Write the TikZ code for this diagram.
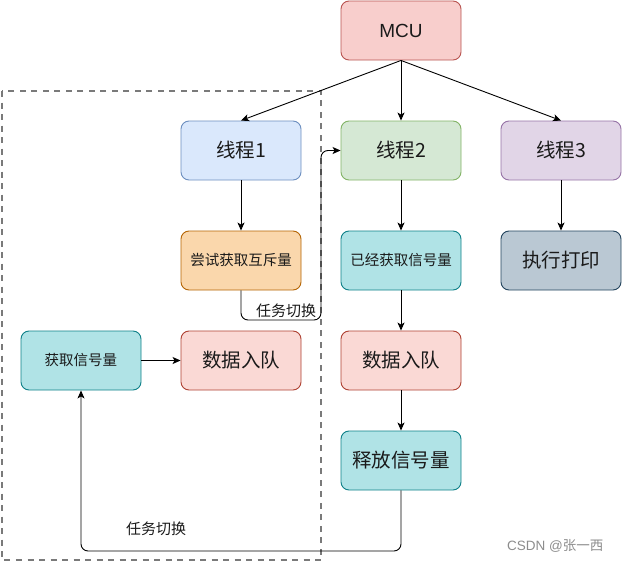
\documentclass[tikz,border=0pt]{standalone}
\usepackage{fontspec}
\setmainfont{Liberation Sans}
\newfontfamily\cjk{Noto Sans CJK SC}
\usetikzlibrary{arrows.meta}
\definecolor{txt}{HTML}{1A1A1A}
\definecolor{redF}{HTML}{F8CECC}\definecolor{redD}{HTML}{B85450}
\definecolor{blueF}{HTML}{DAE8FC}\definecolor{blueD}{HTML}{6C8EBF}
\definecolor{greenF}{HTML}{D5E8D4}\definecolor{greenD}{HTML}{82B366}
\definecolor{purpF}{HTML}{E1D5E7}\definecolor{purpD}{HTML}{9673A6}
\definecolor{orgF}{HTML}{FAD7AC}\definecolor{orgD}{HTML}{B46504}
\definecolor{tealF}{HTML}{B0E3E6}\definecolor{tealD}{HTML}{0E8088}
\definecolor{greyF}{HTML}{BAC8D3}\definecolor{greyD}{HTML}{23445D}
\definecolor{pinkF}{HTML}{FAD9D5}\definecolor{pinkD}{HTML}{AE4132}
\begin{document}
\begin{tikzpicture}[x=1pt,y=-1pt,
  box/.style={draw, rounded corners=8pt, minimum width=120pt, minimum height=59pt, inner sep=0pt, text=txt, line width=0.9pt},
  big/.style={font=\cjk\fontsize{19.5}{22}\selectfont},
  small/.style={font=\cjk\fontsize{14.5}{17}\selectfont},
  arr/.style={-{Stealth[length=8pt,width=7pt,inset=2pt]}, line width=0.9pt, black},
  lbl/.style={font=\cjk\fontsize{15}{18}\selectfont, text=txt, inner sep=1pt}]
\useasboundingbox (0,0) rectangle (622,562);
% dashed group
\draw[line width=2pt, color=black!52, dash pattern=on 6pt off 5.5pt] (2,91) rectangle (321,560);
% nodes
\node[box, fill=redF, draw=redD, font=\fontsize{19}{22}\selectfont] (mcu) at (401,30.5) {MCU};
\node[box, big, fill=blueF, draw=blueD] (t1) at (241,150.5) {线程1};
\node[box, big, fill=greenF, draw=greenD] (t2) at (401,150.5) {线程2};
\node[box, big, fill=purpF, draw=purpD] (t3) at (561,150.5) {线程3};
\node[box, small, fill=orgF, draw=orgD] (try) at (241,260.5) {尝试获取互斥量};
\node[box, small, fill=tealF, draw=tealD] (got) at (401,260.5) {已经获取信号量};
\node[box, big, fill=greyF, draw=greyD] (prn) at (561,260.5) {执行打印};
\node[box, small, fill=tealF, draw=tealD] (get) at (81,360.5) {获取信号量};
\node[box, big, fill=pinkF, draw=pinkD] (q1) at (241,360.5) {数据入队};
\node[box, big, fill=pinkF, draw=pinkD] (q2) at (401,360.5) {数据入队};
\node[box, big, fill=tealF, draw=tealD] (rel) at (401,460.5) {释放信号量};
% connectors
\draw[arr] (mcu.south) -- (t1.north);
\draw[arr] (mcu.south) -- (t2.north);
\draw[arr] (mcu.south) -- (t3.north);
\draw[arr] (t1) -- (try);
\draw[arr] (t2) -- (got);
\draw[arr] (t3) -- (prn);
\draw[arr] (got) -- (q2);
\draw[arr] (q2) -- (rel);
\draw[arr] (get) -- (q1);
\coordinate (a1) at (241,320);
\coordinate (a2) at (321,320);
\coordinate (a3) at (321,150.5);
\draw[arr, rounded corners=7pt] (try.south) -- (a1) -- (a2) -- (a3) -- (t2.west);
\coordinate (b1) at (401,551);
\coordinate (b2) at (81,551);
\draw[arr, rounded corners=7pt] (rel.south) -- (b1) -- (b2) -- (get.south);
% labels
\node[lbl, fill=white] (l1) at (286,311) {任务切换};
\node[lbl] (l2) at (156,529) {任务切换};
\node[font=\fontsize{13.5}{16}\selectfont, text=black!45, anchor=west, inner sep=0pt] (wm) at (507,546) {CSDN @{\cjk 张一西}};
\end{tikzpicture}
\end{document}
